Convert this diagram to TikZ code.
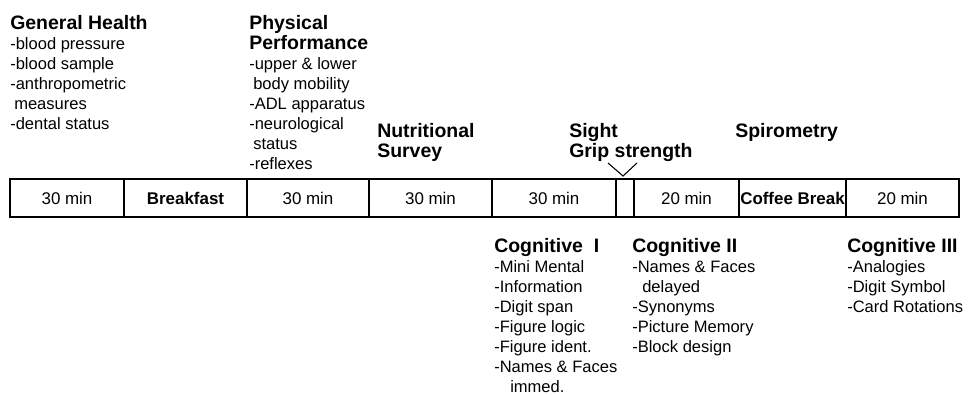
\documentclass[tikz,border=0pt]{standalone}
\usepackage{fontspec}
\setmainfont{Liberation Sans}
\usepackage{tikz}

\newcommand{\hd}[1]{{\fontsize{14.6}{15}\selectfont\bfseries #1}}

\begin{document}
\begin{tikzpicture}[x=0.75pt,y=-0.75pt,
		slot/.style={draw,line width=0.9pt,minimum height=28.5pt,inner sep=0pt,font=\fontsize{12.7}{15}\selectfont},
		block/.style={anchor=base west,align=left,inner sep=0pt,font=\fontsize{12.4}{15}\selectfont}]
	\useasboundingbox (0,0) rectangle (969,395);
	%% define time slots
	\node (s1) at (67,198) [slot,minimum width=85.5pt] {30 min};
	\node (s2) at (185.5,198) [slot,minimum width=92.25pt] {\bfseries Breakfast};
	\node (s3) at (308,198) [slot,minimum width=91.5pt] {30 min};
	\node (s4) at (430.5,198) [slot,minimum width=92.25pt] {30 min};
	\node (s5) at (554,198) [slot,minimum width=93pt] {30 min};
	\node (s6) at (625,198) [slot,minimum width=13.5pt] {};
	\node (s7) at (686.5,198) [slot,minimum width=78.75pt] {20 min};
	\node (s8) at (792.5,198) [slot,minimum width=80.25pt] {\bfseries Coffee Break};
	\node (s9) at (902.5,198) [slot,minimum width=84.75pt] {20 min};
	%% define upper blocks (anchored at the base of the last line)
	\node (gh) at (10,130) [block] {\hd{General Health}\\-blood pressure\\-blood sample\\-anthropometric\\\hspace{3pt}measures\\-dental status};
	\node (pp) at (249,170) [block] {\hd{Physical}\\\hd{Performance}\\-upper \& lower\\\hspace{3pt}body mobility\\-ADL apparatus\\-neurological\\\hspace{3pt}status\\-reflexes};
	\node (ns) at (377,158) [block] {\hd{Nutritional}\\\hd{Survey}};
	\node (sg) at (569,158) [block] {\hd{Sight}\\\hd{Grip strength}};
	\node (sp) at (735,138) [block] {\hd{Spirometry}};
	%% define lower blocks
	\node (c1) at (494,392) [block] {\hd{Cognitive\ \ I}\\-Mini Mental\\-Information\\-Digit span\\-Figure logic\\-Figure ident.\\-Names \& Faces\\\hspace{12pt}immed.};
	\node (c2) at (632,352) [block] {\hd{Cognitive II}\\-Names \& Faces\\\hspace{7.5pt}delayed\\-Synonyms\\-Picture Memory\\-Block design};
	\node (c3) at (847,312) [block] {\hd{Cognitive III}\\-Analogies\\-Digit Symbol\\-Card Rotations};
	%% define mark
	\coordinate (vl) at (608,163);
	\coordinate (vb) at (623,176);
	\coordinate (vr) at (637,163);
	\draw[line width=0.8pt] (vl) -- (vb) -- (vr);
\end{tikzpicture}
\end{document}
